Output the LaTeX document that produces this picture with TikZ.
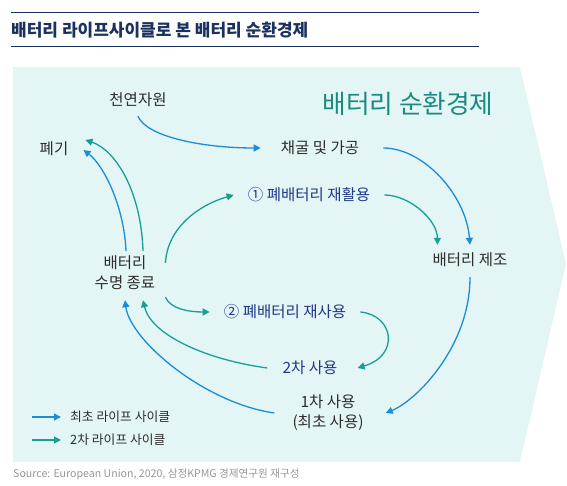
\documentclass[tikz,border=0pt]{standalone}
\usepackage{fontspec}
\setmainfont{Noto Sans CJK KR}
\usetikzlibrary{arrows.meta,calc}
\definecolor{firstblue}{RGB}{27,141,214}
\definecolor{secondteal}{RGB}{22,160,148}
\definecolor{navytxt}{RGB}{33,56,135}
\definecolor{titlenavy}{RGB}{26,50,96}
\definecolor{bigteal}{RGB}{27,138,128}
\definecolor{panelbg}{RGB}{228,245,245}
\definecolor{bodygray}{RGB}{45,45,45}
\definecolor{srcgray}{RGB}{150,150,150}
\begin{document}
\begin{tikzpicture}[x=1pt,y=-1pt,
	txt/.style={text=bodygray,font=\fontsize{15.5}{20}\selectfont,inner sep=2pt,align=center},
	navy/.style={txt,text=navytxt},
	legtxt/.style={text=bodygray,font=\fontsize{12.8}{15}\selectfont,inner sep=0pt,anchor=west},
	first/.style={draw=firstblue,line width=1.3pt,-{Triangle[length=7pt,width=7pt]}},
	second/.style={first,draw=secondteal}]
		\useasboundingbox (0,0) rectangle (567,486);
		
		%Title
		\draw[titlenavy,line width=1pt] (11,13) -- (479,13);
		\node (T1) at (11,30) [anchor=west,inner sep=0pt,text=titlenavy,font=\fontsize{17}{20}\selectfont\bfseries] {배터리 라이프사이클로 본 배터리 순환경제};
		\draw[titlenavy,line width=1pt] (11,47) -- (479,47);
		
		%Panel
		\fill[panelbg] (13,67) -- (520,67) -- (566,264) -- (520,462) -- (13,462) -- cycle;
		\node (Big) at (408,104) [text=bigteal,font=\fontsize{25.7}{28}\selectfont] {배터리 순환경제};
		
		%Stages
		\node[txt] (Res) at (138,100) {천연자원};
		\node[txt] (Waste) at (54,149) {폐기};
		\node[txt] (Mine) at (320,148) {채굴 및 가공};
		\node[navy] (Recyc) at (309,195) {① 폐배터리 재활용};
		\node[txt] (Make) at (470,260) {배터리 제조};
		\node[txt] (EoL) at (125,273) {배터리\\수명 종료};
		\node[navy] (Reuse) at (285,312) {② 폐배터리 재사용};
		\node[navy] (Use2) at (310,368) {2차 사용};
		\node[txt] (Use1) at (328,413) {1차 사용\\(최초 사용)};
		
		%First life cycle
		\draw[first] ($(Res.south)+(0,7)$) .. controls +(8,20) and +(-60,0) .. ($(Mine.west)+(-18,0)$);
		\draw[first] ($(Mine.east)+(22,0)$) .. controls +(40,0) and +(-4,-50) .. ($(Make.north)+(0,-6)$);
		\draw[first] ($(Make.south)+(0,8)$) .. controls +(0,70) and +(30,-12) .. ($(Use1.east)+(20,0)$);
		\draw[first] ($(Use1.west)+(-16,0)$) .. controls +(-70,-10) and +(5,40) .. ($(EoL.south)+(0,8)$);
		\draw[first] ($(EoL.north)+(1,-3)$) .. controls +(-2,-45) and +(20,15) .. ($(Waste.east)+(13,1)$);
		
		%Second life cycle
		\draw[second] ($(EoL.north)+(18,-3)$) .. controls +(-2,-60) and +(30,10) .. ($(Waste.east)+(15,-9)$);
		\draw[second] ($(EoL.north east)+(8,9)$) .. controls +(2,-35) and +(-35,10) .. ($(Recyc.west)+(-12,0)$);
		\draw[second] ($(Recyc.east)+(12,0)$) .. controls +(25,0) and +(0,-25) .. ($(Make.north west)+(7,-6)$);
		\draw[second] ($(EoL.south east)+(8,5)$) .. controls +(5,12) and +(-20,0) .. ($(Reuse.west)+(-12,0)$);
		\draw[second] ($(Reuse.east)+(12,0)$) .. controls +(33,3) and +(43,-13) .. ($(Use2.east)+(18,0)$);
		\draw[second] ($(Use2.west)+(-13,0)$) .. controls +(-60,-8) and +(8,35) .. ($(EoL.south)+(18,8)$);
		
		%Legend
		\node[legtxt] (L1) at (70,417) {최초 라이프 사이클};
		\draw[first] ($(L1.west)+(-38,0)$) -- ($(L1.west)+(-9,0)$);
		\node[legtxt] (L2) at (70,440) {2차 라이프 사이클};
		\draw[second] ($(L2.west)+(-38,0)$) -- ($(L2.west)+(-9,0)$);
		
		%Source
		\node (Src) at (13,474) [anchor=west,inner sep=0pt,text=srcgray,font=\fontsize{10.6}{12}\selectfont] {Source: European Union, 2020, 삼정KPMG 경제연구원 재구성};
		
	\end{tikzpicture}
\end{document}
